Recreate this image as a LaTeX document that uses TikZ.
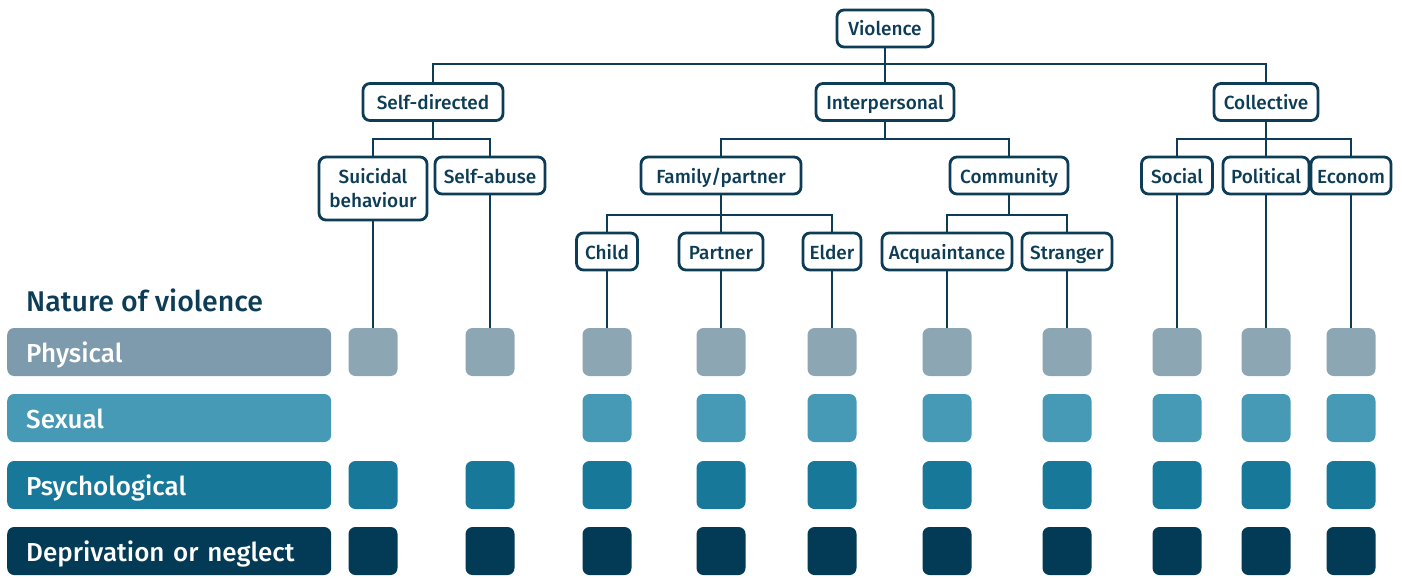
\documentclass[tikz,border=0pt]{standalone}
\usepackage{fontspec}
\setmainfont{Fira Sans}[UprightFont=* Medium, BoldFont=* SemiBold]
\definecolor{dk}{HTML}{0D3D56}
\definecolor{cphysbar}{HTML}{7D9BAC}
\definecolor{cphys}{HTML}{8CA7B3}
\definecolor{csex}{HTML}{469AB5}
\definecolor{cpsy}{HTML}{17789A}
\definecolor{cdep}{HTML}{033A55}
\begin{document}
\begin{tikzpicture}[x=1pt,y=-1pt,
  box/.style={draw=dk, line width=2.8pt, rounded corners=7pt, fill=white, text=dk,
    font=\fontsize{19}{21}\selectfont, minimum height=37pt, inner sep=0pt, align=center,
    text height=15pt, text depth=0pt},
  conn/.style={draw=dk, line width=2.8pt},
  sq/.style={rounded corners=7pt, minimum width=49pt, minimum height=48pt, inner sep=0pt},
  bar/.style={rounded corners=7pt, minimum width=324pt, minimum height=48pt, inner sep=0pt,
    text=white, font=\fontsize{26}{28}\selectfont, anchor=west, text width=286pt, align=left,
    text height=21pt, text depth=0pt}
]
\useasboundingbox (0,0) rectangle (1402,578);
\coordinate (b1) at (0,64);
\coordinate (b2) at (0,139);
\coordinate (b3) at (0,215);
% tree nodes
\node[box, minimum width=96pt] (vio) at (885,28.5) {Violence};
\node[box, minimum width=140pt] (selfd) at (433,102) {Self-directed};
\node[box, minimum width=138pt] (inter) at (885,102) {Interpersonal};
\node[box, minimum width=104pt] (coll) at (1266,102) {Collective};
\node[box, minimum width=108pt, minimum height=63pt, text height=, text depth=, font=\fontsize{19}{24}\selectfont] (suic) at (373,188.5) {Suicidal\\behaviour};
\node[box, minimum width=110pt] (sab) at (490,175.5) {Self-abuse};
\node[box, minimum width=160pt] (fam) at (721,175.5) {Family/partner};
\node[box, minimum width=118pt] (comm) at (1009,175.5) {Community};
\node[box, minimum width=71pt] (soc) at (1177,175.5) {Social};
\node[box, minimum width=86pt] (pol) at (1266,175.5) {Political};
\node[box, minimum width=80pt] (eco) at (1351,175.5) {Econom};
\node[box, minimum width=61pt] (child) at (607,251.5) {Child};
\node[box, minimum width=84pt] (part) at (721,251.5) {Partner};
\node[box, minimum width=58pt] (eld) at (832,251.5) {Elder};
\node[box, minimum width=130pt] (acq) at (947,251.5) {Acquaintance};
\node[box, minimum width=90pt] (str) at (1067,251.5) {Stranger};
% connectors
\draw[conn] (vio) -- (inter);
\draw[conn] (selfd.north) |- (vio |- b1) -| (coll.north);
\draw[conn] (selfd) -- (selfd |- b2);
\draw[conn] (suic.north) |- (sab |- b2) -- (sab.north);
\draw[conn] (inter.south) -- (inter |- b2);
\draw[conn] (fam.north) |- (comm |- b2) -- (comm.north);
\draw[conn] (coll.south) -- (pol.north);
\draw[conn] (soc.north) |- (eco |- b2) -- (eco.north);
\draw[conn] (fam.south) -- (part.north);
\draw[conn] (child.north) |- (eld |- b3) -- (eld.north);
\draw[conn] (comm.south) -- (comm |- b3);
\draw[conn] (acq.north) |- (str |- b3) -- (str.north);
% labels
\node[text=dk, font=\fontsize{28.5}{30}\selectfont, anchor=west, inner sep=0pt] (nat) at (26,300) {Nature of violence};
\node[bar, fill=cphysbar] (rphys) at (7,352) {Physical};
\node[bar, fill=csex] (rsex) at (7,418) {Sexual};
\node[bar, fill=cpsy] (rpsy) at (7,485) {Psychological};
\node[bar, fill=cdep] (rdep) at (7,551) {Deprivation or neglect};
% squares
\foreach \n/\x/\s in {suic/373/0, sab/490/0, child/607/1, part/721/1, eld/832/1, acq/947/1, str/1067/1, soc/1177/1, pol/1266/1, eco/1351/1}{
  \node[sq, fill=cphys] (p-\n) at (\x,352) {};
  \ifnum\s=1 \node[sq, fill=csex] (s-\n) at (\x,418) {};\fi
  \node[sq, fill=cpsy] (y-\n) at (\x,485) {};
  \node[sq, fill=cdep] (d-\n) at (\x,551) {};
}
\foreach \n in {suic,sab,child,part,eld,acq,str,soc,pol,eco}{
  \draw[conn] (\n.south) -- (\n.south |- p-\n.north);
}
\end{tikzpicture}
\end{document}
